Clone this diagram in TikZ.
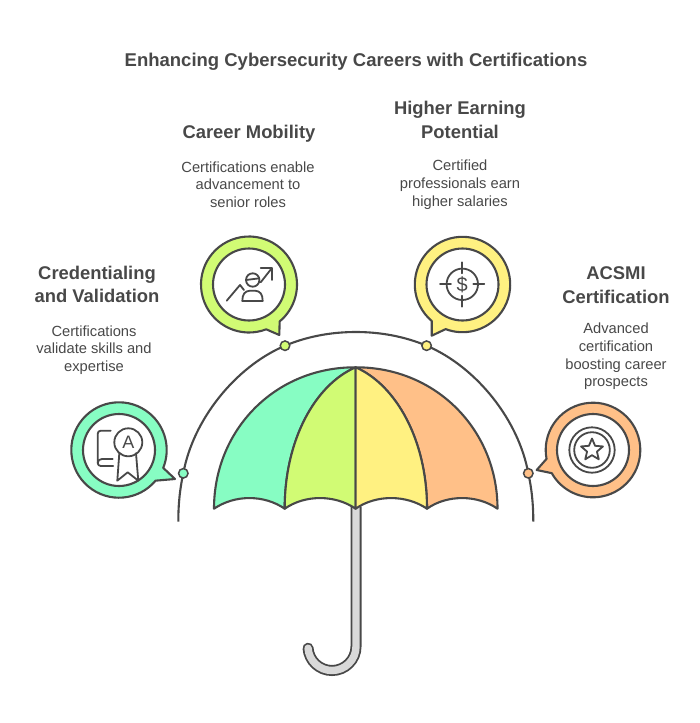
\documentclass[tikz,border=0pt]{standalone}
\usepackage{fontspec}
\setmainfont{Liberation Sans}
\definecolor{ink}{HTML}{484848}
\definecolor{mintc}{HTML}{87FDC3}
\definecolor{limec}{HTML}{D1FB74}
\definecolor{yellowc}{HTML}{FFF181}
\definecolor{orangec}{HTML}{FFC088}
\definecolor{handlec}{HTML}{D9D9D9}
\tikzset{
  line/.style={draw=ink,line width=2.1pt,line join=round},
  iconline/.style={draw=ink,line width=1.8pt,line cap=round,line join=round},
  pin/.style={circle,draw=ink,line width=1.5pt,minimum size=9.5pt,inner sep=0pt},
  inner/.style={circle,draw=ink,fill=white,line width=2.1pt,minimum size=72pt,inner sep=0pt},
  title/.style={font=\fontsize{18.5}{22}\selectfont\bfseries,text=ink},
  heading/.style={font=\fontsize{18.4}{23.5}\selectfont\bfseries,text=ink,align=center},
  body/.style={font=\fontsize{14.7}{17.7}\selectfont,text=ink,align=center}
}
\begin{document}
\begin{tikzpicture}[x=1pt,y=-1pt]
       \useasboundingbox (0,0) rectangle (700,723);
       \node[title] (title) at (356,62) {Enhancing Cybersecurity Careers with Certifications};
       % big arc over the umbrella
       \coordinate (arcleft) at (178.3,521.5);
       \coordinate (arcright) at (533.3,521.5);
       \coordinate (arctop) at (355.8,332);
       \coordinate (crepin) at (183.3,473.3);
       \coordinate (mobpin) at (285,345.7);
       \coordinate (earpin) at (426.6,345.7);
       \coordinate (acspin) at (528.3,473.3);
       \draw[line] (arcleft) .. controls (178.3,504) and (180,488) .. (crepin)
         .. controls (193,420) and (235,367) .. (mobpin)
         .. controls (307,336.5) and (331,332) .. (arctop)
         .. controls (380.6,332) and (404.6,336.5) .. (earpin)
         .. controls (476.6,367) and (518.6,420) .. (acspin)
         .. controls (531.6,488) and (533.3,504) .. (arcright);
       \foreach \nm/\px/\py/\col in {credot/183.3/473.3/mintc,mobdot/285/345.7/limec,eardot/426.6/345.7/yellowc,acsdot/528.3/473.3/orangec}
       {
         \node[pin,fill=\col] (\nm) at (\px,\py) {};
       }
       % speech bubbles
       \foreach \nm/\cx/\cy/\rr/\sa/\ea/\tx/\ty/\col in {cre/119/450/47.7/40/382/175/479/mintc,mob/249/284.5/48/69/410.3/279.3/335/limec,ear/462.5/284.5/47.7/130.2/470.7/431.7/335.7/yellowc,acs/593/450/47.3/169.2/510.7/536.7/470/orangec}
       {
         \draw[line,fill=\col] (\cx,\cy) ++(\sa:\rr) arc[start angle=\sa,end angle=\ea,radius=\rr] -- (\tx,\ty) -- cycle;
         \node[inner] (\nm) at (\cx,\cy) {};
       }
       % icon: book and medal
       \draw[iconline,rounded corners=3pt] (110.7,430.7) -- (97.7,430.7) -- (97.7,466) -- (113.3,466);
       \draw[iconline] (97.7,463) .. controls (97.7,460.5) and (99.5,459) .. (102,459) -- (112.7,459);
       \draw[iconline] (128.3,442.3) circle (14);
       \draw[iconline] (119.3,453.3) -- (117.3,480.7) -- (127.7,472.3) -- (138.3,480.7) -- (136,453.3);
       \node[font=\fontsize{18}{18}\selectfont,text=ink,inner sep=0pt] (crea) at (128.3,442.3) {A};
       % icon: person and arrow
       \draw[iconline] (226.7,300.7) -- (240,285) -- (244,290);
       \draw[iconline] (260.7,282.3) -- (271.7,268.3);
       \draw[iconline] (260.7,268.3) -- (272.3,268.3) -- (272.3,280);
       \draw[iconline] (252.7,280) circle (6.7);
       \draw[iconline] (246,280) -- (259.3,278.3);
       \draw[iconline] (242.3,301) .. controls (242.3,294) and (245,291) .. (250,290.7) -- (255,290.7) .. controls (260,291) and (262.7,294) .. (262.7,301) -- cycle;
       % icon: target
       \draw[iconline] (462.3,284.3) circle (15.7);
       \draw[iconline] (462.3,262.3) -- (462.3,273.3);
       \draw[iconline] (462.3,295.7) -- (462.3,306.7);
       \draw[iconline] (440,284.3) -- (451,284.3);
       \draw[iconline] (473.3,284.3) -- (484.3,284.3);
       \node[font=\fontsize{20}{20}\selectfont,text=ink,inner sep=0pt] (eardollar) at (462.3,284.3) {\$};
       % icon: star badge
       \draw[iconline] (592,450) circle (22.7);
       \draw[iconline] (592,450) circle (17.8);
       \draw[iconline] (592,438.5)
       \foreach \a in {1,...,9}
       {
         -- ({592+(mod(\a,2)==1 ? 5.2 : 11.5)*sin(\a*36)},{450-(mod(\a,2)==1 ? 5.2 : 11.5)*cos(\a*36)})
       } -- cycle;
       % handle
       \draw[draw=ink,line width=11pt,line cap=round] (356,507) -- (356,646.5) arc[start angle=0,end angle=176,radius=24];
       \draw[draw=handlec,line width=7.4pt,line cap=round] (356,507) -- (356,646.5) arc[start angle=0,end angle=176,radius=24];
       % canopy
       \draw[line,fill=mintc] (214,508.7) .. controls (214,430) and (275,367) .. (355.6,367.3)
         .. controls (315,385) and (284.7,440) .. (284.7,508.7)
         .. controls (264,494.5) and (235,494.5) .. (214,508.7) -- cycle;
       \draw[line,fill=limec] (284.7,508.7) .. controls (284.7,440) and (315,385) .. (355.6,367.3)
         -- (355.6,508.7) .. controls (335,494.5) and (305,494.5) .. (284.7,508.7) -- cycle;
       \draw[line,fill=orangec] (497.5,508.7) .. controls (497.5,430) and (436,367) .. (355.6,367.3)
         .. controls (396,385) and (427,440) .. (427,508.7)
         .. controls (447,494.5) and (477,494.5) .. (497.5,508.7) -- cycle;
       \draw[line,fill=yellowc] (427,508.7) .. controls (427,440) and (396,385) .. (355.6,367.3)
         -- (355.6,508.7) .. controls (376,494.5) and (406,494.5) .. (427,508.7) -- cycle;
       % labels
       \node[heading] (crehead) at (97,284.5) {Credentialing\\and Validation};
       \node[body] (crebody) at (94,350) {Certifications\\validate skills and\\expertise};
       \node[heading] (mobhead) at (249,133.5) {Career Mobility};
       \node[body] (mobbody) at (248,184.7) {Certifications enable\\advancement to\\senior roles};
       \node[heading] (earhead) at (460,120) {Higher Earning\\Potential};
       \node[body] (earbody) at (460,184.7) {Certified\\professionals earn\\higher salaries};
       \node[heading] (acshead) at (616,285) {ACSMI\\Certification};
       \node[body] (acsbody) at (616,356.5) {Advanced\\certification\\boosting career\\prospects};
     \end{tikzpicture}
\end{document}
